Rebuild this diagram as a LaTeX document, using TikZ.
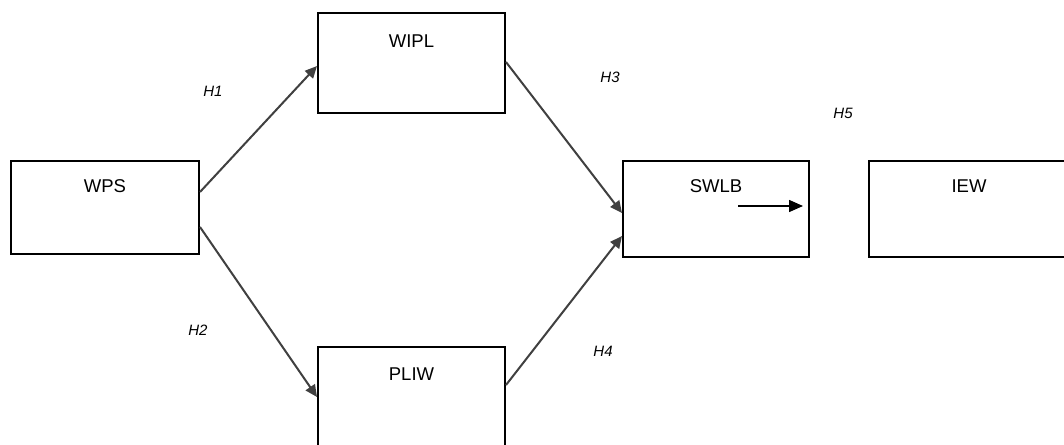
\documentclass[tikz,border=0pt]{standalone}
\usepackage{fontspec}
\setmainfont{Liberation Sans}
\usetikzlibrary{arrows.meta}
\begin{document}
\begin{tikzpicture}[x=1pt,y=-1pt,
  box/.style={draw=black, line width=2pt, rectangle, inner sep=0pt},
  boxtext/.style={font=\fontsize{18.5}{20}\selectfont, inner sep=0pt, anchor=center},
  hyp/.style={font=\itshape\fontsize{15}{17}\selectfont, inner sep=0pt},
  link/.style={draw=black!75, line width=2pt, -{Triangle[length=12pt,width=11pt]}},
  plain/.style={draw=black, line width=1.5pt, -{Triangle[length=14pt,width=12pt]}}]
\useasboundingbox (0,0) rectangle (1064,444);
\fill[white] (0,0) rectangle (1064,444);

% constructs
\node[box, minimum width=188pt, minimum height=93pt] (wps) at (105,207.5) {};
\node[boxtext] at ([yshift=-26pt]wps.north) {WPS};
\node[box, minimum width=187pt, minimum height=100pt] (wipl) at (411.5,63) {};
\node[boxtext] at ([yshift=-29pt]wipl.north) {WIPL};
\node[box, minimum width=187pt, minimum height=100pt] (pliw) at (411.5,397) {};
\node[boxtext] at ([yshift=-28pt]pliw.north) {PLIW};
\node[box, minimum width=186pt, minimum height=96pt] (swlb) at (716,209) {};
\node[boxtext] at ([yshift=-26pt]swlb.north) {SWLB};
\node[box, minimum width=200pt, minimum height=96pt] (iew) at (969,209) {};
\node[boxtext] at ([yshift=-26pt]iew.north) {IEW};

% hypothesised paths
\draw[link] ([yshift=15.5pt]wps.east) -- ([yshift=-3pt]wipl.west);
\draw[link] ([yshift=-19.5pt]wps.east) -- (pliw.west);
\draw[link] ([yshift=1pt]wipl.east) -- ([yshift=-4pt]swlb.west);
\draw[link] ([yshift=12pt]pliw.east) -- ([yshift=-27pt]swlb.west);
\coordinate (h5a) at (738,206);
\coordinate (h5b) at (803,206);
\draw[plain] (h5a) -- (h5b);

% hypothesis labels
\node[hyp] (h1) at (213,91) {H1};
\node[hyp] (h2) at (198,330) {H2};
\node[hyp] (h3) at (610,77) {H3};
\node[hyp] (h4) at (603,351) {H4};
\node[hyp] (h5) at (843,113) {H5};
\end{tikzpicture}
\end{document}
